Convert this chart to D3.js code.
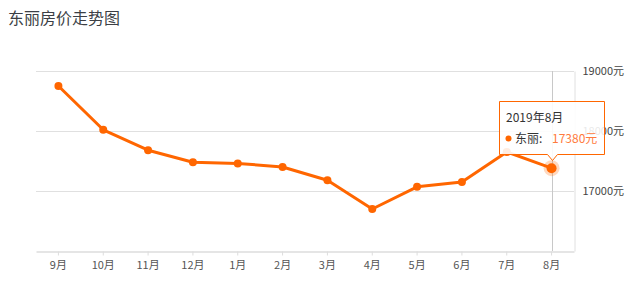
<!DOCTYPE html>
<html>
<head>
<meta charset="utf-8">
<script src="https://cdn.jsdelivr.net/npm/d3@7"></script>
<style>
  body { margin: 0; background: #fff; font-family: "Microsoft YaHei", "Noto Sans CJK SC", sans-serif; }
</style>
</head>
<body>
<script>
const months = ["9月", "10月", "11月", "12月", "1月", "2月", "3月", "4月", "5月", "6月", "7月", "8月"];
const prices = [18750, 18020, 17680, 17480, 17460, 17400, 17180, 16700, 17070, 17150, 17650, 17380];
const yTicks = [17000, 18000, 19000];
const title = "东丽房价走势图";
const seriesName = "东丽";
const tipTitle = "2019年8月";

const width = 641, height = 291;
const margin = { top: 71, right: 67, bottom: 40, left: 36 };
const orange = "#ff6600";
const font = "\"Noto Sans CJK SC\", sans-serif";

const svg = d3.select("body").append("svg")
    .attr("width", width)
    .attr("height", height)
    .style("font-family", font);

svg.append("text")
    .attr("x", 8).attr("y", 24)
    .attr("fill", "#3c3f45")
    .style("font-size", "16px")
    .text(title);

const x = d3.scaleBand()
    .domain(months)
    .range([margin.left, width - margin.right]);
const y = d3.scaleLinear()
    .domain([16000, 19000])
    .range([height - margin.bottom, margin.top]);
const cx = d => x(d) + x.bandwidth() / 2;

// grid
svg.append("g").selectAll("line")
    .data(yTicks)
    .join("line")
    .attr("x1", margin.left).attr("x2", width - margin.right)
    .attr("y1", d => Math.round(y(d)) + 0.5).attr("y2", d => Math.round(y(d)) + 0.5)
    .attr("stroke", "#e0e0e0");

// right y axis
const yAxis = svg.append("g")
    .attr("transform", `translate(${width - margin.right + 0.5},0)`)
    .call(d3.axisRight(y).tickValues(yTicks).tickSize(0).tickPadding(8).tickFormat(d => d + "元"));
yAxis.select(".domain").attr("stroke", "#e0e0e0");
yAxis.selectAll("text").attr("fill", "#444").style("font-size", "11px").style("font-family", font);

// x axis
const xAxis = svg.append("g")
    .attr("transform", `translate(0,${height - margin.bottom + 0.5})`)
    .call(d3.axisBottom(x).tickSize(4).tickPadding(6).tickSizeOuter(0));
xAxis.select(".domain").attr("stroke", "#ddd").attr("stroke-width", 1.5);
xAxis.selectAll(".tick line").attr("stroke", "#ddd");
xAxis.selectAll("text").attr("fill", "#555").style("font-size", "11px").style("font-family", font);

// axis pointer for the hovered month
const hi = months.length - 1;
svg.append("line")
    .attr("x1", Math.round(cx(months[hi])) + 0.5).attr("x2", Math.round(cx(months[hi])) + 0.5)
    .attr("y1", margin.top).attr("y2", height - margin.bottom)
    .attr("stroke", "#c8c8c8");

// line
const data = months.map((m, i) => ({ m, v: prices[i] }));
svg.append("path")
    .datum(data)
    .attr("fill", "none")
    .attr("stroke", orange)
    .attr("stroke-width", 3)
    .attr("stroke-linejoin", "round")
    .attr("d", d3.line().x(d => cx(d.m)).y(d => y(d.v)));

svg.append("g").selectAll("circle")
    .data(data.slice(0, hi))
    .join("circle")
    .attr("cx", d => cx(d.m)).attr("cy", d => y(d.v))
    .attr("r", 4)
    .attr("fill", orange);

// highlighted point
const last = data[hi];
svg.append("circle")
    .attr("cx", cx(last.m)).attr("cy", y(last.v))
    .attr("r", 8).attr("fill", orange).attr("fill-opacity", 0.25);
svg.append("circle")
    .attr("cx", cx(last.m)).attr("cy", y(last.v))
    .attr("r", 5).attr("fill", orange);

// tooltip
const tx = 499.5, ty = 101.5, tw = 105, th = 53;
const ax = Math.round(cx(last.m)) + 0.5;
const tip = svg.append("g");
tip.append("path")
    .attr("d", `M${tx},${ty}H${tx + tw}V${ty + th}H${ax + 5}L${ax},${ty + th + 6}L${ax - 5},${ty + th}H${tx}Z`)
    .attr("fill", "rgba(255,255,255,0.88)")
    .attr("stroke", orange);
tip.append("text")
    .attr("x", 506).attr("y", 122)
    .attr("fill", "#333")
    .style("font-size", "12px")
    .text(tipTitle);
tip.append("circle")
    .attr("cx", 508.5).attr("cy", 138.5).attr("r", 3)
    .attr("fill", orange);
tip.append("text")
    .attr("x", 515).attr("y", 143)
    .attr("fill", "#333")
    .style("font-size", "12px")
    .text(seriesName + ":");
tip.append("text")
    .attr("x", 552).attr("y", 143)
    .attr("fill", "#ff7a3d")
    .style("font-size", "12px")
    .text(last.v + "元");
</script>
</body>
</html>
